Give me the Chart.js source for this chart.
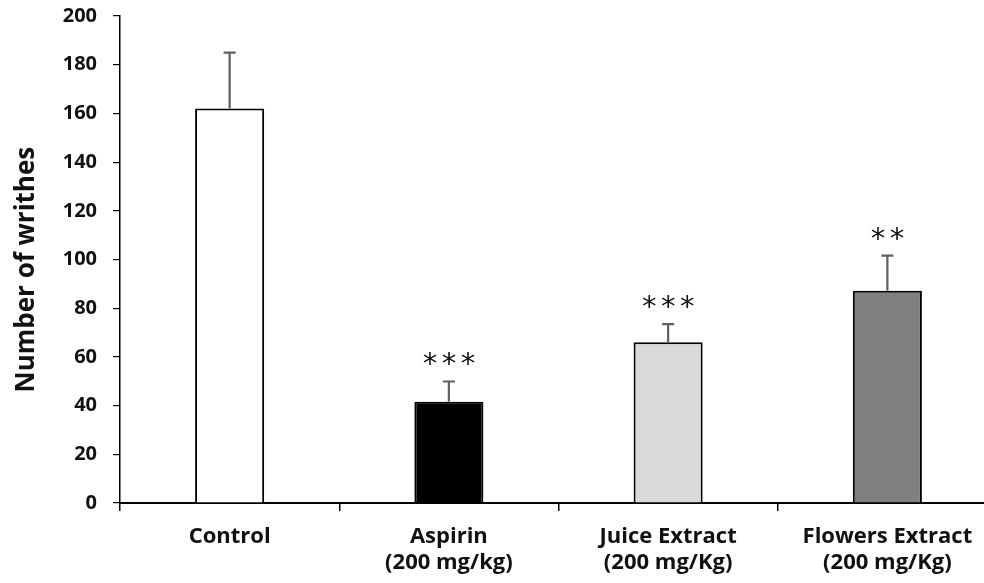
<!DOCTYPE html>
<html>
<head>
<meta charset="utf-8">
<script src="https://cdn.jsdelivr.net/npm/chart.js@4/dist/chart.umd.min.js"></script>
<style>
  html, body { margin: 0; padding: 0; background: #fff; overflow: hidden; }
  #wrap { position: relative; width: 1000px; height: 583px; }
</style>
</head>
<body>
<div id="wrap"><canvas id="c"></canvas></div>
<script>
// ---- data ----
const categories = [
  'Control',
  ['Aspirin', '(200 mg/kg)'],
  ['Juice Extract', '(200 mg/Kg)'],
  ['Flowers Extract', '(200 mg/Kg)']
];
const meanWrithes = [162, 41.6, 66, 87.2];
const errorWrithes = [23, 8.3, 7.5, 14.4];
const significance = ['', '***', '***', '**'];
const barColors = ['#ffffff', '#000000', '#d9d9d9', '#808080'];
const yTicks = [0, 20, 40, 60, 80, 100, 120, 140, 160, 180, 200];
const yTitle = 'Number of writhes';

const FONT = '"Open Sans", "DejaVu Sans", sans-serif';

const errorBarPlugin = {
  id: 'errorBars',
  afterDatasetsDraw(chart) {
    const ctx = chart.ctx;
    const meta = chart.getDatasetMeta(0);
    const ys = chart.scales.y;
    ctx.save();
    meta.data.forEach((bar, i) => {
      const x = bar.x;
      const yMean = ys.getPixelForValue(meanWrithes[i]);
      const yTop = ys.getPixelForValue(meanWrithes[i] + errorWrithes[i]);
      ctx.strokeStyle = '#606060';
      ctx.lineWidth = 2.2;
      ctx.beginPath();
      ctx.moveTo(x, yMean);
      ctx.lineTo(x, yTop);
      ctx.moveTo(x - 6, yTop);
      ctx.lineTo(x + 6, yTop);
      ctx.stroke();

      const sig = significance[i];
      if (sig) {
        ctx.fillStyle = '#111';
        ctx.font = '29px "DejaVu Sans", sans-serif';
        ctx.textAlign = 'center';
        ctx.textBaseline = 'alphabetic';
        const m = ctx.measureText('*');
        const cy = yTop - 22;
        const spacing = 19;
        const n = sig.length;
        for (let k = 0; k < n; k++) {
          const cx = x + (k - (n - 1) / 2) * spacing;
          const by = cy + (m.actualBoundingBoxAscent - m.actualBoundingBoxDescent) / 2;
          ctx.fillText('*', cx, by);
        }
      }
    });
    ctx.restore();
  }
};

new Chart(document.getElementById('c'), {
  type: 'bar',
  data: {
    labels: categories,
    datasets: [{
      data: meanWrithes,
      backgroundColor: barColors,
      borderColor: '#000',
      borderWidth: 2,
      barPercentage: 0.315,
      categoryPercentage: 1.0
    }]
  },
  options: {
    responsive: true,
    maintainAspectRatio: false,
    animation: false,
    layout: { padding: { top: 16, right: 3, left: 0, bottom: 0 } },
    plugins: {
      legend: { display: false },
      tooltip: { enabled: false }
    },
    scales: {
      x: {
        offset: true,
        grid: {
          display: true,
          offset: true,
          drawOnChartArea: false,
          drawTicks: true,
          tickLength: 8,
          color: '#000',
          lineWidth: 1.5
        },
        border: { display: true, color: '#000', width: 2 },
        ticks: {
          color: '#111',
          padding: 13,
          maxRotation: 0,
          autoSkip: false,
          font: { family: FONT, size: 22, weight: 'bold', lineHeight: 1.18 }
        },
        afterFit(s) { s.height = 80; s.paddingLeft = 0; s.paddingRight = 0; }
      },
      y: {
        min: 0,
        max: 200,
        afterBuildTicks(s) { s.ticks = yTicks.map(v => ({ value: v })); },
        grid: {
          display: true,
          drawOnChartArea: false,
          drawTicks: true,
          tickLength: 7,
          color: '#000',
          lineWidth: 1.2
        },
        border: { display: true, color: '#000', width: 1.5 },
        ticks: {
          color: '#111',
          padding: 16,
          font: { family: FONT, size: 20, weight: 'bold' }
        },
        title: {
          display: true,
          text: yTitle + '\u00A0\u00A0\u00A0',
          color: '#111',
          padding: { top: 11, bottom: 0 },
          font: { family: FONT, size: 26, weight: 'bold' }
        },
        afterFit(s) { s.width = 120; s.paddingTop = 0; s.paddingBottom = 0; }
      }
    }
  },
  plugins: [errorBarPlugin]
});
</script>
</body>
</html>
